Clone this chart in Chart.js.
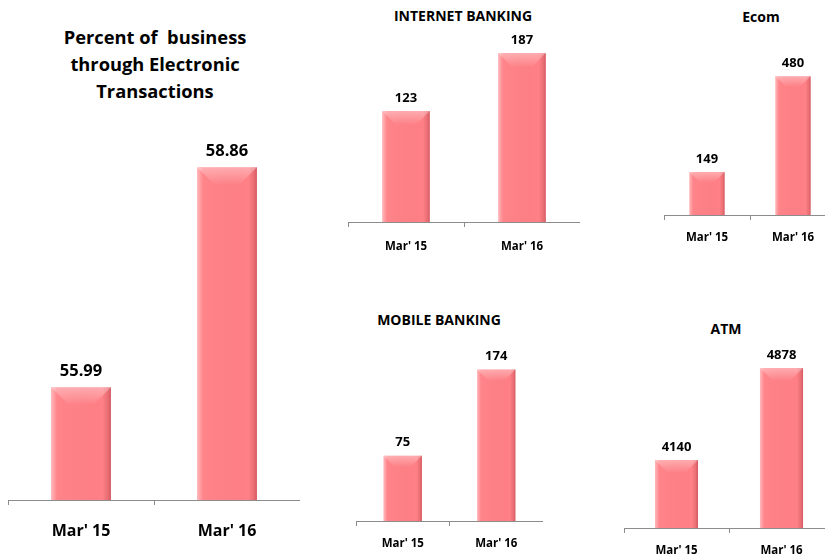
<!DOCTYPE html>
<html>
<head>
<meta charset="utf-8">
<script src="https://cdn.jsdelivr.net/npm/chart.js@4.4.1/dist/chart.umd.min.js"></script>
<style>
  html, body { margin: 0; padding: 0; background: #fff; overflow: hidden; }
  body { width: 825px; height: 556px; position: relative; font-family: "Open Sans", sans-serif; }
  canvas { position: absolute; }
  .title { position: absolute; font-weight: bold; color: #000; white-space: pre; text-align: center;
           transform: translateX(-50%); line-height: 1.2; }
</style>
</head>
<body>

<div class="title" style="left:155px; top:23.4px; font-size:18.3px; line-height:27px;">Percent of  business
through Electronic
Transactions</div>
<div class="title" style="left:463px; top:8.2px; font-size:14px;">INTERNET BANKING</div>
<div class="title" style="left:761px; top:8.7px; font-size:14px;">Ecom</div>
<div class="title" style="left:439px; top:311.7px; font-size:14px;">MOBILE BANKING</div>
<div class="title" style="left:726px; top:320.7px; font-size:14px;">ATM</div>

<canvas id="chart-percent" width="292" height="417" style="left:8px; top:140px;"></canvas>
<canvas id="chart-internet" width="232" height="236" style="left:348px; top:30px;"></canvas>
<canvas id="chart-ecom" width="172" height="216" style="left:664px; top:40px;"></canvas>
<canvas id="chart-mobile" width="187" height="222" style="left:356px; top:340px;"></canvas>
<canvas id="chart-atm" width="210" height="229" style="left:624px; top:340px;"></canvas>

<script>
// values
const periods = ["Mar' 15", "Mar' 16"];
const electronicShare = [55.99, 58.86];
const internetBanking = [123, 187];
const ecom = [149, 480];
const mobileBanking = [75, 174];
const atm = [4140, 4878];

const BAR = '#FF8086';
const AXIS = '#8c8c8c';
const FONT = '"Open Sans", sans-serif';

// bevel shading on each bar + value label above it
const barStyle = {
  id: 'barStyle',
  afterDatasetsDraw(chart, args, opts) {
    const ctx = chart.ctx;
    const meta = chart.getDatasetMeta(0);
    const values = chart.data.datasets[0].data;
    meta.data.forEach((bar, i) => {
      const p = bar.getProps(['x', 'y', 'width', 'base'], true);
      const base = Math.min(p.base, chart.chartArea.bottom);
      const l = p.x - p.width / 2, r = p.x + p.width / 2, y = p.y, h = base - y;
      ctx.save();
      const g = ctx.createLinearGradient(l, 0, r, 0);
      g.addColorStop(0, 'rgba(255,255,255,0.45)');
      g.addColorStop(0.1, 'rgba(255,255,255,0.04)');
      g.addColorStop(0.86, 'rgba(0,0,0,0)');
      g.addColorStop(0.94, 'rgba(110,0,10,0.12)');
      g.addColorStop(1, 'rgba(110,0,10,0.3)');
      ctx.fillStyle = g;
      ctx.fillRect(l, y, p.width, h);

      const d = Math.min(p.width * 0.3, h / 2);
      const tg = ctx.createLinearGradient(0, y, 0, y + d);
      tg.addColorStop(0, 'rgba(255,255,255,0.35)');
      tg.addColorStop(1, 'rgba(255,255,255,0)');
      ctx.fillStyle = tg;
      ctx.beginPath();
      ctx.moveTo(l, y);
      ctx.lineTo(r, y);
      ctx.lineTo(r - d, y + d);
      ctx.lineTo(l + d, y + d);
      ctx.closePath();
      ctx.fill();

      ctx.fillStyle = '#000';
      ctx.font = 'bold ' + opts.size + 'px ' + FONT;
      ctx.textAlign = 'center';
      ctx.textBaseline = 'middle';
      ctx.fillText(String(values[i]), p.x, y - opts.offset);
      ctx.restore();
    });
  }
};

function makeChart(id, values, yMin, yMax, o) {
  return new Chart(document.getElementById(id), {
    type: 'bar',
    data: {
      labels: periods,
      datasets: [{
        data: values,
        backgroundColor: BAR,
        borderWidth: 0,
        barPercentage: 0.41,
        categoryPercentage: 1
      }]
    },
    options: {
      responsive: false,
      animation: false,
      layout: { padding: 0 },
      plugins: {
        legend: { display: false },
        tooltip: { enabled: false },
        barStyle: { size: o.valueSize, offset: o.valueOffset }
      },
      scales: {
        x: {
          grid: { display: true, drawOnChartArea: false, drawTicks: true, tickLength: 5, color: AXIS, offset: true },
          border: { display: true, color: AXIS, width: 1 },
          ticks: {
            color: '#000',
            padding: o.tickPad,
            font: { family: FONT, weight: 'bold', size: o.tickSize, lineHeight: o.tickLine }
          }
        },
        y: { display: false, min: yMin, max: yMax }
      }
    },
    plugins: [barStyle]
  });
}

const small = { valueSize: 13, valueOffset: 13, tickSize: 11.5, tickLine: 1.5, tickPad: 9.375 };

makeChart('chart-percent', electronicShare, 54.52, 59.216,
  { valueSize: 16.5, valueOffset: 16, tickSize: 16, tickLine: 2, tickPad: 10 });
makeChart('chart-internet', internetBanking, 0, 212.6, Object.assign({}, small, { tickPad: 10.875 }));
makeChart('chart-ecom', ecom, 0, 605.5, small);
makeChart('chart-mobile', mobileBanking, 0, 207.8, small);
makeChart('chart-atm', atm, 3594.5, 5102.5, small);
</script>
</body>
</html>
